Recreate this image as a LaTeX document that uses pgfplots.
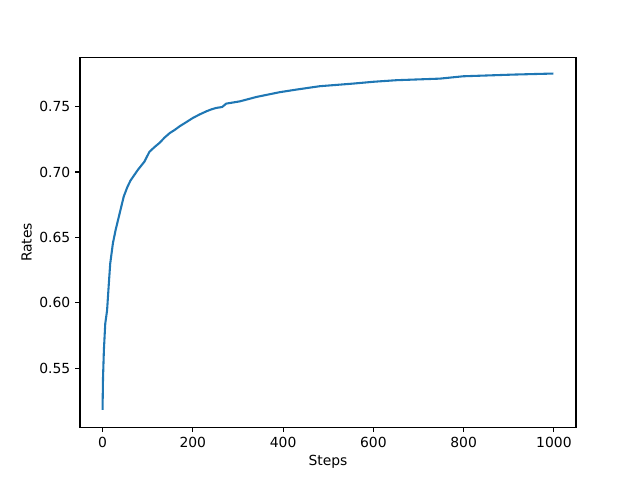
\documentclass[border=0pt]{standalone}
\usepackage{pgfplots}
\pgfplotsset{compat=1.18}
\usepackage{fontspec}
\setmainfont{DejaVu Sans}
\definecolor{tabblue}{HTML}{1F77B4}

\begin{document}
\fontsize{13.9bp}{16bp}\selectfont
\begin{tikzpicture}[x=1bp,y=1bp]
\useasboundingbox (0,0) rectangle (640,480);
\begin{axis}[
  at={(80bp,52.8bp)}, anchor=south west,
  scale only axis,
  width=496bp, height=369.6bp,
  xmin=-49.95, xmax=1048.95,
  ymin=0.5048, ymax=0.7875,
  xtick={0,200,400,600,800,1000},
  ytick={0.55,0.60,0.65,0.70,0.75},
  xticklabel style={/pgf/number format/.cd,1000 sep={}},
  yticklabel style={/pgf/number format/.cd,fixed,fixed zerofill,precision=2},
  /pgf/number format/assume math mode=true,
  tick align=outside,
  tick pos=left,
  major tick length=4.86bp,
  tick style={black, line width=1.1bp},
  axis line style={line width=1.1bp},
  xlabel={Steps}, ylabel={Rates},
  xlabel style={yshift=2bp},
  ylabel style={yshift=-2bp},
  ticklabel style={font=\fontsize{13.9bp}{16bp}\selectfont},
  label style={font=\fontsize{13.9bp}{16bp}\selectfont},
]
\addplot[tabblue, line width=2.08bp, line join=round] coordinates {
(0,0.518) (1,0.542) (3,0.564) (6,0.584) (10,0.594) (14,0.615) (17,0.630)
(23,0.6456) (29,0.6557) (38,0.6685) (47,0.6813) (55,0.6885) (62,0.6935)
(70,0.6975) (78,0.7015) (86,0.705) (93,0.708) (98,0.7115) (104,0.7155)
(115,0.719) (126,0.7222) (138,0.7265) (149,0.7298) (160,0.7322) (171,0.735)
(185,0.738) (200,0.7413) (215,0.744) (230,0.7464) (242,0.748) (252,0.749)
(265,0.7497) (274,0.7523) (304,0.754) (341,0.7574) (392,0.761) (429,0.763)
(481,0.7656) (555,0.7676) (600,0.769) (651,0.7702) (747,0.7714)
(799,0.7732) (910,0.7745) (999,0.7753)
};
\end{axis}
\end{tikzpicture}
\end{document}
